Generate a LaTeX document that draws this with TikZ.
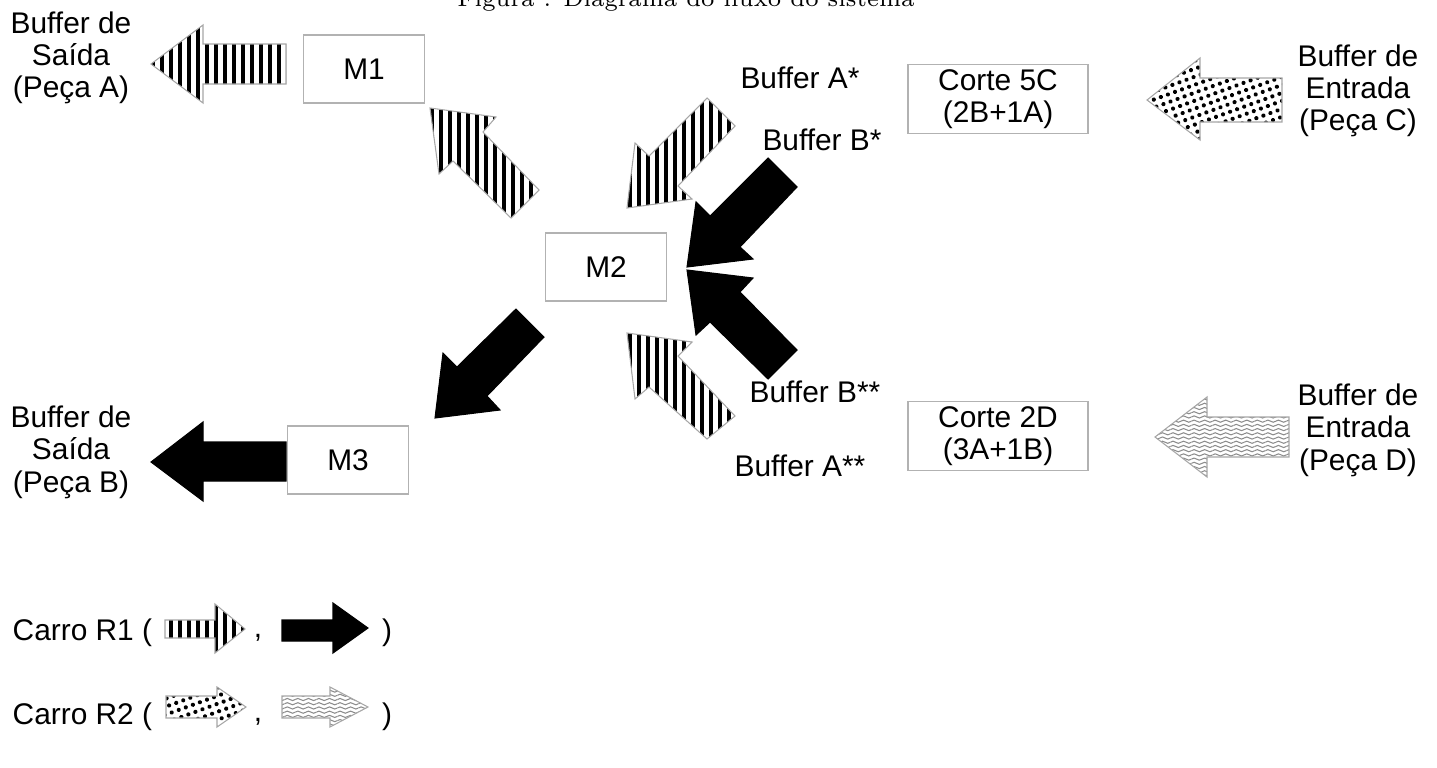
\documentclass[tikz,border=0pt]{standalone}
\usepackage{fontspec}
\newfontfamily\arial{Liberation Sans}
\usetikzlibrary{patterns.meta}

% gray wavy fill for the Peça D arrows
\tikzdeclarepattern{
  name=ondas,
  type=uncolored,
  bounding box={(0pt,-0.6pt) and (3pt,0.6pt)},
  tile size={(3pt,1.2pt)},
  code={
    \draw[line width=0.3pt] (0pt,0pt) sin (0.75pt,0.3pt) cos (1.5pt,0pt) sin (2.25pt,-0.3pt) cos (3pt,0pt);
  }
}

\tikzset{
  texto/.style={font=\arial\fontsize{8.5pt}{9.2pt}\selectfont, align=center, inner sep=0pt},
  caixa/.style={texto, draw=gray!60, line width=0.4pt, minimum width=12.1mm, minimum height=6.8mm},
  corte/.style={caixa, minimum width=18mm, minimum height=6.9mm},
  listrado/.style={draw=gray!70, line width=0.3pt, pattern={Lines[angle=90,distance=0.9mm,line width=0.4mm]}},
  preto/.style={draw=black, fill=black, line width=0.3pt},
  pontilhado/.style={draw=gray!70, line width=0.3pt, pattern={Dots[distance=0.75mm,radius=0.21mm,angle=20]}},
  ondulado/.style={draw=gray!70, line width=0.3pt, pattern=ondas, pattern color=gray!90}
}

\begin{document}
\begin{tikzpicture}[x=0.1mm, y=-0.1mm]
  \useasboundingbox (0,0) rectangle (1437,767);
  \node[font=\fontsize{6.7pt}{8pt}\selectfont, anchor=base] (titulo) at (686,6) {Figura : Diagrama do fluxo do sistema};

  % machines and cutting stations
  \node[caixa] (m1) at (364,69) {M1};
  \node[caixa] (m2) at (606,267) {M2};
  \node[caixa] (m3) at (348,460) {M3};
  \node[corte] (c5) at (998,99) {Corte 5C\\(2B+1A)};
  \node[corte] (c2) at (998,436) {Corte 2D\\(3A+1B)};

  % buffers
  \node[texto] (saidaA) at (71,58) {Buffer de\\Saída\\(Peça A)};
  \node[texto] (saidaB) at (71,452) {Buffer de\\Saída\\(Peça B)};
  \node[texto] (entC) at (1358,91) {Buffer de\\Entrada\\(Peça C)};
  \node[texto] (entD) at (1358,430) {Buffer de\\Entrada\\(Peça D)};
  \node[texto] (bufA1) at (800,78) {Buffer A*};
  \node[texto] (bufB1) at (822,140) {Buffer B*};
  \node[texto] (bufB2) at (815,392) {Buffer B**};
  \node[texto] (bufA2) at (800,466) {Buffer A**};

  % flows of R1
  \draw[listrado] (286,44) -- (203,44) -- (203,25) -- (151,64) -- (203,103) -- (203,84) -- (286,84) -- cycle;
  \draw[listrado] (539,190) -- (483,132) -- (496,117) -- (430,108) -- (439,174) -- (453,161) -- (511,218) -- cycle;
  \draw[listrado] (735,126) -- (678,186) -- (692,199) -- (627,208) -- (635,143) -- (649,156) -- (707,98) -- cycle;
  \draw[listrado] (735,416) -- (678,356) -- (692,342) -- (627,333) -- (635,399) -- (649,387) -- (707,439) -- cycle;
  \draw[preto] (797,187) -- (740,247) -- (753,259) -- (687,267) -- (696,202) -- (710,216) -- (768,158) -- cycle;
  \draw[preto] (797,350) -- (740,292) -- (753,278) -- (687,270) -- (696,335) -- (710,322) -- (768,379) -- cycle;
  \draw[preto] (544,337) -- (487,396) -- (500,410) -- (435,418) -- (443,353) -- (457,367) -- (516,309) -- cycle;
  \draw[preto] (286,442) -- (203,442) -- (203,422) -- (151,462) -- (203,501) -- (203,481) -- (286,481) -- cycle;

  % flows of R2
  \draw[pontilhado] (1282,78) -- (1200,78) -- (1200,58) -- (1147,100) -- (1200,140) -- (1200,122) -- (1282,122) -- cycle;
  \draw[ondulado] (1289,417) -- (1207,417) -- (1207,397) -- (1155,437) -- (1207,477) -- (1207,457) -- (1289,457) -- cycle;

  % legend
  \node[texto, anchor=west] (r1) at (12,633) {Carro R1 (};
  \draw[listrado] (165,620) -- (215,620) -- (215,604) -- (245,629) -- (215,653) -- (215,638) -- (165,638) -- cycle;
  \node[texto] (r1v) at (258,638) {,};
  \draw[preto] (282,620) -- (333,620) -- (333,603) -- (368,628) -- (333,653) -- (333,641) -- (282,641) -- cycle;
  \node[texto] (r1f) at (387,633) {)};

  \node[texto, anchor=west] (r2) at (12,717) {Carro R2 (};
  \draw[pontilhado] (166,696) -- (217,696) -- (217,687) -- (246,707) -- (217,727) -- (217,718) -- (166,718) -- cycle;
  \node[texto] (r2v) at (258,722) {,};
  \draw[ondulado] (282,696) -- (330,696) -- (330,687) -- (368,707) -- (330,727) -- (330,718) -- (282,718) -- cycle;
  \node[texto] (r2f) at (387,717) {)};
\end{tikzpicture}
\end{document}
